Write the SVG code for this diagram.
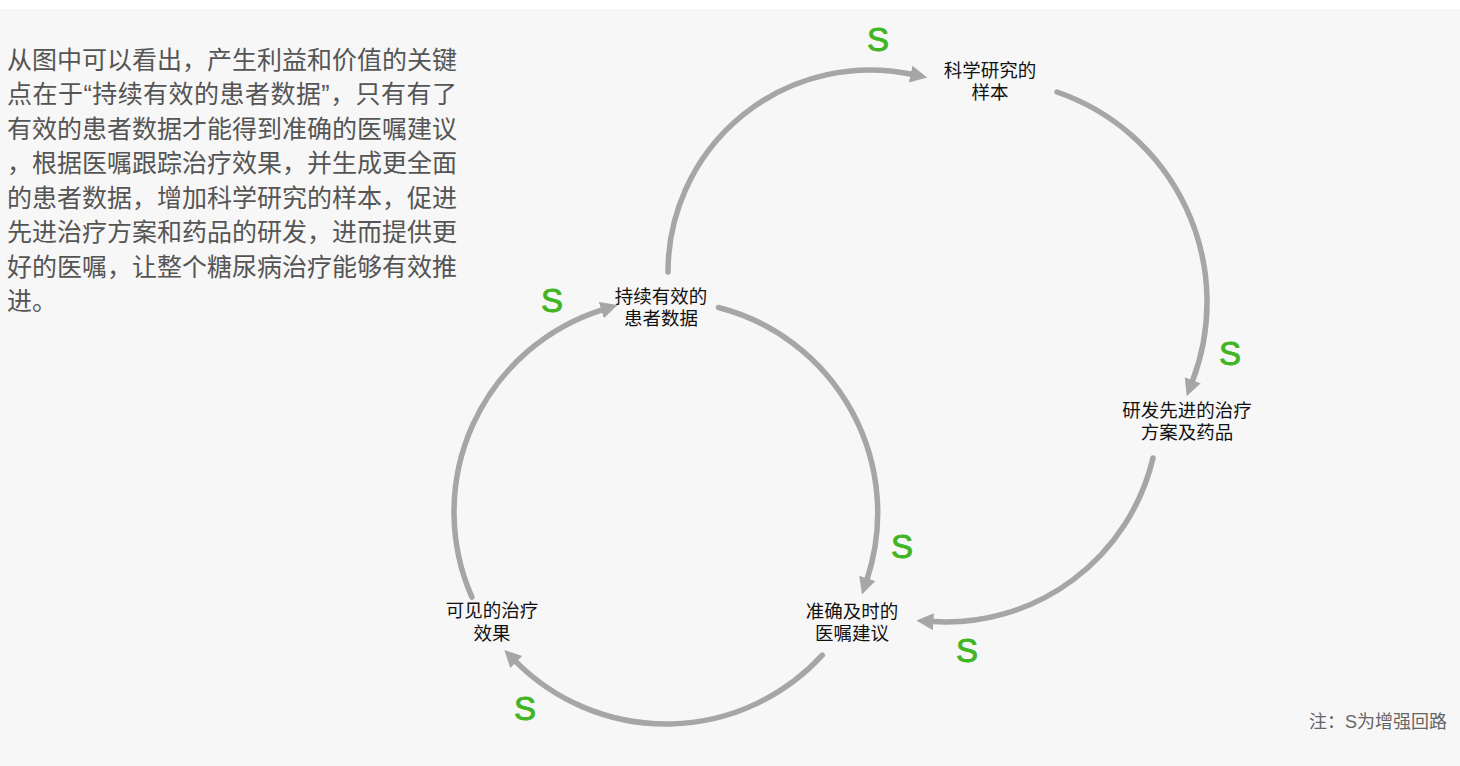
<svg xmlns="http://www.w3.org/2000/svg" width="1460" height="766" viewBox="0 0 1460 766">
<defs>
<style>
.para{font-family:"Liberation Sans","Noto Sans CJK SC",sans-serif;font-size:25px;fill:#555555}
.node{font-family:"Liberation Sans","Noto Sans CJK SC",sans-serif;font-size:18.5px;fill:#111111;text-anchor:middle}
.s{font-family:"Liberation Sans","Noto Sans CJK SC",sans-serif;font-size:33px;fill:#40b422;stroke:#40b422;stroke-width:0.9px;text-anchor:middle}
.note{font-family:"Liberation Sans","Noto Sans CJK SC",sans-serif;font-size:18px;fill:#666666;text-anchor:end}
.arc{fill:none;stroke:#a6a6a6;stroke-width:5.5;stroke-linecap:round;marker-end:url(#ah)}
</style>
<marker id="ah" markerUnits="userSpaceOnUse" viewBox="0 -10 20 20" markerWidth="20" markerHeight="20" refX="1" refY="0" orient="auto">
<path d="M0,-8.5 L17,0 L0,8.5 z" fill="#a6a6a6"/>
</marker>
</defs>
<rect x="0" y="0" width="1460" height="766" fill="#f7f7f7"/>
<rect x="0" y="0" width="1460" height="9" fill="#ffffff"/>

<g id="description">
<text class="para" x="7" y="68.5" textLength="450" lengthAdjust="spacing">从图中可以看出，产生利益和价值的关键</text>
<text class="para" x="7" y="103" textLength="450" lengthAdjust="spacing">点在于“持续有效的患者数据”，只有有了</text>
<text class="para" x="7" y="137.5" textLength="450" lengthAdjust="spacing">有效的患者数据才能得到准确的医嘱建议</text>
<text class="para" x="7" y="172" textLength="450" lengthAdjust="spacing">，根据医嘱跟踪治疗效果，并生成更全面</text>
<text class="para" x="7" y="206.5" textLength="450" lengthAdjust="spacing">的患者数据，增加科学研究的样本，促进</text>
<text class="para" x="7" y="241" textLength="450" lengthAdjust="spacing">先进治疗方案和药品的研发，进而提供更</text>
<text class="para" x="7" y="275.5" textLength="450" lengthAdjust="spacing">好的医嘱，让整个糖尿病治疗能够有效推</text>
<text class="para" x="7" y="310">进。</text>
</g>

<g id="connectors">
<path class="arc" d="M668,272 A202,202 0 0 1 911.6,74.3"/>
<path class="arc" d="M1057,92 A222,222 0 0 1 1192.4,381.2"/>
<path class="arc" d="M1153,458 A213,213 0 0 1 932.4,621.6"/>
<path class="arc" d="M718.5,307.5 A212,212 0 0 1 867,579.3"/>
<path class="arc" d="M822.3,655.2 A212,212 0 0 1 515.6,661.4"/>
<path class="arc" d="M471.9,597.2 A212,212 0 0 1 602.3,309.8"/>
</g>

<g id="loop-labels">
<text class="s" x="878" y="50.5">S</text>
<text class="s" x="1230" y="364.5">S</text>
<text class="s" x="552" y="311.5">S</text>
<text class="s" x="902" y="557.5">S</text>
<text class="s" x="967" y="661.5">S</text>
<text class="s" x="525" y="720">S</text>
</g>

<g id="node-sample">
<text class="node" x="990" y="77">科学研究的</text>
<text class="node" x="990" y="99">样本</text>
</g>
<g id="node-research">
<text class="node" x="1187" y="416.5">研发先进的治疗</text>
<text class="node" x="1187" y="439">方案及药品</text>
</g>
<g id="node-data">
<text class="node" x="661" y="302.5">持续有效的</text>
<text class="node" x="661" y="325">患者数据</text>
</g>
<g id="node-advice">
<text class="node" x="852" y="617.5">准确及时的</text>
<text class="node" x="852" y="640">医嘱建议</text>
</g>
<g id="node-effect">
<text class="node" x="492" y="617">可见的治疗</text>
<text class="node" x="492" y="639.5">效果</text>
</g>

<text class="note" x="1447" y="728">注：S为增强回路</text>
</svg>
